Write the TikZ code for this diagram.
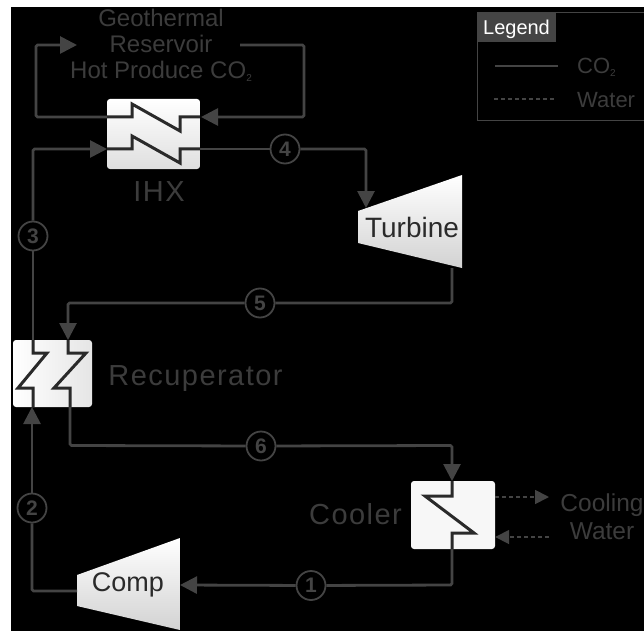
\documentclass[tikz,border=0pt]{standalone}
\usepackage{fontspec}
\setmainfont{Liberation Sans}
\newfontfamily\widefont[LetterSpace=5]{Liberation Sans}
\usepackage{tikz}
\usetikzlibrary{arrows.meta,positioning}
\definecolor{linegray}{HTML}{444444}
\definecolor{textgray}{HTML}{3C3C3C}
\definecolor{zigdark}{HTML}{2A2A2A}
\newcommand{\cosub}{CO\raisebox{-3pt}{\fontsize{10}{10}\selectfont 2}}

\begin{document}
\begin{tikzpicture}[
    x=1pt, y=-1pt,
    >={Triangle[length=17pt,width=17pt]},
    flow/.style={draw=linegray, line width=2.8pt, rounded corners=1.5pt},
    arrow/.style={flow, ->},
    water/.style={draw=linegray, line width=1.8pt, dash pattern=on 4pt off 3pt, ->, >={Triangle[length=14pt,width=14pt]}},
    zig/.style={draw=zigdark, line width=3pt, line join=miter},
    hxbox/.style={rectangle, rounded corners=3pt, inner sep=0pt},
    state/.style={circle, draw=linegray, line width=1.8pt, minimum size=29pt, inner sep=0pt, text=linegray, font=\fontsize{21}{21}\selectfont\bfseries},
    label/.style={text=textgray, font=\fontsize{29}{29}\selectfont\widefont, inner sep=0pt},
    small/.style={text=textgray, font=\fontsize{24}{26}\selectfont, align=center, inner sep=0pt}
]
    \useasboundingbox (0,0) rectangle (644,631);
    \fill[white] (0,0) rectangle (644,631);
    \fill[black] (11,7) rectangle (644,631);

    % heat exchangers
    \node[hxbox, minimum width=93pt, minimum height=70pt, top color=white, bottom color=gray!25] (ihx) at (153.5,134) {};
    \node[hxbox, minimum width=79pt, minimum height=67pt, left color=white, right color=gray!20] (recup) at (52.5,373.5) {};
    \node[hxbox, minimum width=84pt, minimum height=68pt, fill=white!97!black] (cooler) at (453,515) {};

    % turbine and compressor
    \shade[top color=white, bottom color=gray!35] (358,211) coordinate (turbin) -- (462,175) -- (462,268) -- (358,243) -- cycle;
    \shade[top color=white, bottom color=gray!35] (77,575) -- (180,538) -- (180,630) -- (77,606) -- cycle;
    \node[text=zigdark, font=\fontsize{28}{28}\selectfont, inner sep=0pt] (turbine) at (412,227) {Turbine};
    \node[text=zigdark, font=\fontsize{27}{27}\selectfont, inner sep=0pt] (comp) at (128,585) {Comp};

    % way points
    \coordinate (compin) at (180,585);
    \coordinate (compout) at (77,591);
    \coordinate (turbout) at (452,268);
    \coordinate (turbtop) at (366,208);

    % labels
    \node[small] (reservoir) at (161,45.5) {Geothermal\\Reservoir\\Hot Produce \cosub};
    \node[label] (ihxlabel) at (159,192) {IHX};
    \node[label] (recuplabel) at (195.5,379) {Recuperator};
    \node[label] (coolerlabel) at (355.5,514) {Cooler};
    \node[small, font=\fontsize{24.5}{28}\selectfont] (coolwater) at (602,517) {Cooling\\Water};

    % state points
    \node[state] (s1) at (311,585.5) {1};
    \node[state] (s2) at (32,508) {2};
    \node[state] (s3) at (33,236) {3};
    \node[state] (s4) at (285,149) {4};
    \node[state] (s5) at (260,303) {5};
    \node[state] (s6) at (261,446) {6};

    % reservoir loop
    \draw[arrow] (107,117) -- (36,117) -- (36,45) -- (77,45);
    \draw[arrow] (240,45) -- (304,45) -- (304,117) -- (201,117);
    % co2 loop
    \draw[arrow] (s3) -- (33,149) -- (107,149);
    \draw[flow] (s3) -- (33,340);
    \draw[flow] (200,149) -- (s4);
    \draw[arrow] (s4) -- (366,149) -- (turbtop);
    \draw[flow] (turbout) -- (452,303) -- (s5);
    \draw[arrow] (s5) -- (68,303) -- (68,340);
    \draw[flow] (70,407) -- (70,445.5) -- (s6);
    \draw[arrow] (s6) -- (452,445.5) -- (452,481);
    \draw[flow] (452,549) -- (452,585) -- (s1);
    \draw[arrow] (s1) -- (compin);
    \draw[flow] (compout) -- (32,591) -- (s2);
    \draw[arrow] (s2) -- (32,407);

    % coils
    \draw[zig] (107,117) -- (132,117) -- (132,104) -- (180,131) -- (180,117) -- (200,117);
    \draw[zig] (107,149) -- (132,149) -- (132,136) -- (180,163) -- (180,149) -- (200,149);
    \draw[zig] (33,340) -- (33,353) -- (47,353) -- (18,388) -- (33,388) -- (33,407);
    \draw[zig] (68,340) -- (68,353) -- (86,353) -- (54,388) -- (70,388) -- (70,407);
    \draw[zig] (452,481) -- (452,496) -- (425,496) -- (474,533) -- (452,533) -- (452,549);

    % cooling water
    \draw[water] (cooler.east |- 0,497) -- (549,497);
    \draw[water] (549,537) -- (cooler.east |- 0,537);

    % legend
    \draw[draw=linegray, line width=1pt] (477,121) -- (477,12.5) -- (644,12.5);
    \draw[draw=linegray, line width=1pt] (477,121) -- (644,121);
    \node[fill=linegray, text=white, minimum width=79pt, text height=22pt, text depth=7pt, inner sep=0pt, font=\fontsize{20}{20}\selectfont] (legend) at (516.5,27.5) {Legend};
    \node[anchor=west, text=textgray, inner sep=0pt, font=\fontsize{22}{22}\selectfont] (legco) at (577,67) {\cosub};
    \node[anchor=west, text=textgray, inner sep=0pt, font=\fontsize{22}{22}\selectfont] (legwater) at (577,100) {Water};
    \coordinate (legco0) at (495,66);
    \coordinate (legwater0) at (494,99);
    \draw[flow] (legco0) -- (558,66);
    \draw[draw=linegray, line width=1.6pt, dash pattern=on 4pt off 3pt] (legwater0) -- (556,99);
\end{tikzpicture}
\end{document}
